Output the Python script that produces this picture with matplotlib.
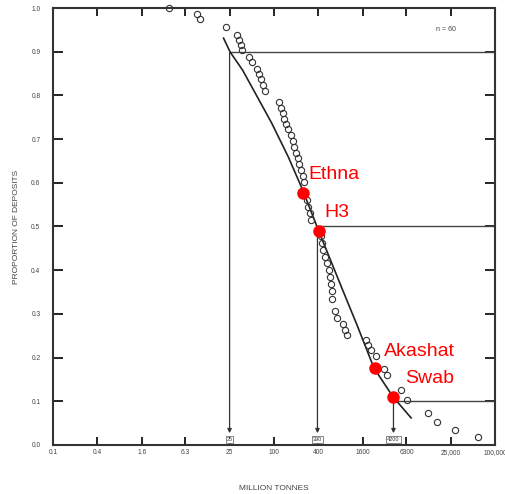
import matplotlib
matplotlib.use("Agg")
import matplotlib.pyplot as plt
import numpy as np

plt.rcParams['font.family'] = ['Liberation Sans', 'DejaVu Sans']

# deposit tonnages (million tonnes) and cumulative proportion
tonnes = [3.8, 9.15, 10.0, 22.7, 31.1, 33.1, 35.2, 36.4, 45.3, 49.8,
          58.2, 61.9, 66.0, 70.3, 74.8, 116, 124, 132, 136, 145,
          154, 169, 180, 186, 198, 211, 217, 231, 247, 254,
          279, 288, 307, 317, 434, 447, 461, 491, 523, 557,
          575, 593, 612, 612, 673, 716, 865, 920, 979, 1780,
          1890, 2080, 2430, 3130, 3440, 5330, 6430, 12400, 16500, 29000,
          59600]
proportion = [1.000, 0.986, 0.975, 0.957, 0.938, 0.927, 0.915, 0.904, 0.888, 0.876,
              0.860, 0.849, 0.838, 0.824, 0.810, 0.785, 0.771, 0.760, 0.746, 0.735,
              0.723, 0.709, 0.696, 0.682, 0.668, 0.657, 0.643, 0.629, 0.616, 0.602,
              0.561, 0.545, 0.531, 0.515, 0.478, 0.462, 0.446, 0.430, 0.416, 0.400,
              0.384, 0.368, 0.352, 0.334, 0.307, 0.291, 0.277, 0.263, 0.252, 0.240,
              0.229, 0.217, 0.204, 0.174, 0.160, 0.126, 0.103, 0.073, 0.053, 0.034,
              0.018]

# fitted curve
curve_x = [20.7, 25.5, 37.5, 53, 93, 157, 245, 405, 837, 1340, 2285, 4150, 7290]
curve_y = [0.931, 0.899, 0.858, 0.812, 0.737, 0.659, 0.584, 0.490, 0.359, 0.275, 0.176, 0.110, 0.062]

# highlighted deposits
names = ['Ethna', 'H3', 'Akashat', 'Swab']
name_x = [246, 405, 2360, 4150]
name_y = [0.577, 0.490, 0.176, 0.110]

# percentiles (90%, 50%, 10%)
pct_x = [25, 390, 4200]
pct_y = [0.9, 0.5, 0.1]
pct_labels = ['25', '390', '4200']

xticks = [0.1, 0.4, 1.6, 6.3, 25, 100, 400, 1600, 6300, 25000, 100000]
xticklabels = ['0.1', '0.4', '1.6', '6.3', '25', '100', '400', '1600', '6300', '25,000', '100,000']
yticks = [0.0, 0.1, 0.2, 0.3, 0.4, 0.5, 0.6, 0.7, 0.8, 0.9, 1.0]

fig = plt.figure(figsize=(5.06, 4.94), dpi=100)
ax = fig.add_axes([0.1047, 0.0992, 0.8733, 0.8846])
ax.set_xscale('log')
ax.set_xlim(0.1, 100000)
ax.set_ylim(0, 1.0)

ax.plot(curve_x, curve_y, color='#222222', lw=1.2, zorder=3)
ax.plot(tonnes, proportion, 'o', mfc='none', mec='#333333', ms=4.5, mew=0.8, zorder=4, clip_on=False)

for px, py, lab in zip(pct_x, pct_y, pct_labels):
    ax.plot([px, 100000], [py, py], color='#444444', lw=1.0, zorder=2)
    ax.annotate('', xy=(px, 0.027), xytext=(px, py),
                arrowprops=dict(arrowstyle='-|>', color='#333333', lw=0.9,
                                mutation_scale=6, shrinkA=0, shrinkB=0))
    ax.text(px, 0.012, lab, fontsize=4, ha='center', va='center', color='#333333',
            bbox=dict(boxstyle='square,pad=0.15', fc='white', ec='#555555', lw=0.5))

ax.plot(name_x, name_y, 'o', color='#ff0000', ms=8, zorder=5)
label_x = [297, 491, 3126, 6040]
label_y = [0.618, 0.531, 0.213, 0.153]
for lx, ly, nm in zip(label_x, label_y, names):
    ax.text(lx, ly, nm, color='#ff0000', fontsize=14, ha='left', va='center')

ax.text(16000, 0.95, 'n = 60', fontsize=5, color='#444444', ha='left', va='center')

ax.set_xticks(xticks)
ax.set_xticklabels(xticklabels)
ax.minorticks_off()
ax.set_yticks(yticks)
ax.set_yticklabels(['%.1f' % v for v in yticks])
ax.tick_params(axis='x', direction='in', length=6, width=1.2, top=True,
               labelsize=4.8, labelcolor='#444444', pad=3)
ax.tick_params(axis='y', direction='in', length=7, width=1.2, right=True,
               labelsize=4.8, labelcolor='#444444', pad=9)
for sp in ax.spines.values():
    sp.set_linewidth(1.5)
    sp.set_color('#333333')

ax.set_xlabel('MILLION TONNES', fontsize=6, color='#444444', labelpad=21)
ax.set_ylabel('PROPORTION OF DEPOSITS', fontsize=6, color='#444444', labelpad=8)

fig.savefig('out.png', dpi=100)
